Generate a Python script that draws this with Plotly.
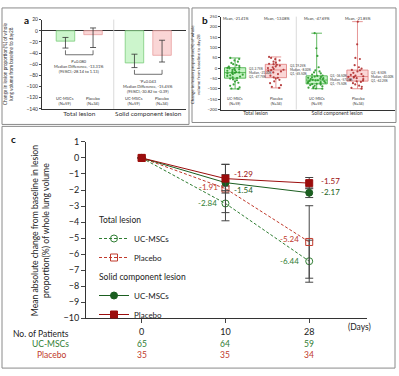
import plotly.graph_objects as go
import numpy as np

W, H = 399, 376
FONT = "Lato"

# ---------------- data ----------------
# panel a : change in lesion proportion (bars with error bars)
a_cats = ["Total lesion", "Solid component lesion"]
a_uc_val = [-18.6, -57.6]
a_uc_upper = [-12.0, -42.0]
a_uc_lower = [-31.0, -66.0]
a_pl_val = [-7.0, -44.0]
a_pl_upper = [5.0, -17.0]
a_pl_lower = [-30.0, -56.0]
a_uc_label = "UC-MSCs<br>(N=59)"
a_pl_label = "Placebo<br>(N=34)"
a_stats = ["P=0.080<br>Median Difference, -13.31%<br>(95%CI,-28.14 to 1.13)",
           "*P=0.043<br>Median Difference, -15.45%<br>(95%CI,-30.82 to -0.39)"]
a_yticks = [20, 0, -20, -40, -60, -80, -100, -120, -140]

# panel b : individual changes (box + points)
b_cats = a_cats
b_uc_total = [-100, -98, -92, -85, -78, -70, -64, -58, -54, -50, -47, -44, -40, -37, -34, -31,
              -28, -25, -23, -22, -20, -18, -15, -12, -10, -7, -5, -3, 0, 2, 5, 8, 12, 15, 20,
              26, 32, 38, 45, 50]
b_pl_total = [-95, -90, -82, -72, -63, -56, -50, -46, -44, -36, -28, -20, -15, -11, -9, -7, -3,
              1, 5, 9, 13, 17, 20, 22, 27, 32, 38, 44, 50, 55]
b_uc_solid = [-99, -98, -96, -94, -91, -88, -85, -82, -79, -77, -75, -73, -71, -69, -67, -65,
              -63, -61, -59, -58, -56, -54, -52, -50, -48, -46, -44, -42, -40, -37, -35, -30,
              -25, -20, -15, -10, 5, 60, 97, 170]
b_pl_solid = [-99, -95, -90, -84, -78, -72, -66, -63, -60, -56, -52, -48, -45, -42, -41, -39,
              -36, -32, -28, -22, -15, -10, -8, -2, 5, 15, 45, 50, 116, 226]
b_uc_means = ["Mean, -21.41%", "Mean, -47.69%"]
b_pl_means = ["Mean, -13.08%", "Mean, -21.85%"]
b_yticks = [250, 200, 150, 100, 50, 0, -50, -100, -150, -200]

# panel c : mean absolute change over time
c_days = ["0", "10", "28"]
c_total_uc = [0, -2.84, -6.44]
c_total_uc_err = [None, 1.08, 1.31]
c_total_pl = [0, -1.91, -5.24]
c_total_pl_err = [None, 1.50, 2.26]
c_solid_uc = [0, -1.54, -2.17]
c_solid_uc_err = [None, 0.50, 0.30]
c_solid_pl = [0, -1.29, -1.57]
c_solid_pl_err = [None, 0.90, 0.35]
c_n_uc = [65, 64, 59]
c_n_pl = [35, 35, 34]

# ---------------- styles ----------------
GREEN = "#2f7d32"
DGREEN = "#1b5e20"
RED = "#c0392b"
DRED = "#9b0d0d"
AX = "#333333"


def fx(px):
    return px / W


def fy(py):
    return 1 - py / H


fig = go.Figure()

# ---- panel a ----
for vals, up, lo, fill, edge, og in [
    (a_uc_val, a_uc_upper, a_uc_lower, "#ccf5cc", "#7ccc7c", "uc"),
    (a_pl_val, a_pl_upper, a_pl_lower, "#fad6d6", "#eaa0a0", "pl"),
]:
    fig.add_trace(go.Bar(
        x=a_cats, y=vals, xaxis="x", yaxis="y", offsetgroup=og, showlegend=False,
        marker=dict(color=fill, line=dict(color=edge, width=0.8)),
        error_y=dict(type="data", symmetric=False,
                     array=[u - v for u, v in zip(up, vals)],
                     arrayminus=[v - l for v, l in zip(vals, lo)],
                     color="#333", thickness=0.8, width=3),
    ))

# ---- panel b ----
for groups, fill, edge, pt, og in [
    ((b_uc_total, b_uc_solid), "rgba(150,235,150,0.55)", "#3aa83a", "#2a9a2a", "uc"),
    ((b_pl_total, b_pl_solid), "rgba(248,200,200,0.75)", "#e07b7b", "#b03030", "pl"),
]:
    q1 = [float(np.percentile(g, 25)) for g in groups]
    med = [float(np.percentile(g, 50)) for g in groups]
    q3 = [float(np.percentile(g, 75)) for g in groups]
    lf = [float(np.min(g)) for g in groups]
    uf = [float(np.max(g)) for g in groups]
    fig.add_trace(go.Box(
        x=b_cats, q1=q1, median=med, q3=q3, lowerfence=lf, upperfence=uf,
        xaxis="x2", yaxis="y2", offsetgroup=og, showlegend=False, boxpoints=False,
        fillcolor=fill, line=dict(color=edge, width=0.8), whiskerwidth=0.5,
    ))
    xs, ys = [], []
    for c, g in zip(b_cats, groups):
        xs += [c] * len(g)
        ys += list(g)
    fig.add_trace(go.Box(
        x=xs, y=ys, xaxis="x2", yaxis="y2", offsetgroup=og, showlegend=False,
        boxpoints="all", jitter=0.9, pointpos=0, fillcolor="rgba(0,0,0,0)",
        line=dict(color="rgba(0,0,0,0)", width=0),
        marker=dict(color=pt, size=2.2, opacity=0.9),
    ))

# ---- panel c ----
series = [
    ("Total lesion", "UC-MSCs", c_total_uc, c_total_uc_err, GREEN, "circle-open", "3px,2px", "total"),
    ("Total lesion", "Placebo", c_total_pl, c_total_pl_err, RED, "square-open", "3px,2px", "total"),
    ("Solid component lesion", "UC-MSCs", c_solid_uc, c_solid_uc_err, DGREEN, "circle", "solid", "solid"),
    ("Solid component lesion", "Placebo", c_solid_pl, c_solid_pl_err, DRED, "square", "solid", "solid"),
]
for gtitle, name, vals, err, col, sym, dash, grp in series:
    fig.add_trace(go.Scatter(
        x=c_days, y=vals, xaxis="x3", yaxis="y3", mode="lines+markers", name=name,
        legendgroup=grp, legendgrouptitle=dict(text=gtitle, font=dict(size=8.5, color="#222")),
        line=dict(color=col, width=1, dash=dash),
        marker=dict(symbol=sym, size=7, color=col, line=dict(color=col, width=1)),
        error_y=dict(type="data", array=err, color="#444", thickness=1, width=4),
    ))

# ---------------- annotations ----------------
ann = []


def note(**kw):
    kw.setdefault("showarrow", False)
    kw.setdefault("xanchor", "center")
    kw.setdefault("yanchor", "middle")
    ann.append(kw)


# panel a group labels & statistics
for ci in range(len(a_cats)):
    note(x=ci, y=-126, xref="x", yref="y", text=a_uc_label, xshift=-14, font=dict(size=4))
    note(x=ci, y=-126, xref="x", yref="y", text=a_pl_label, xshift=14, font=dict(size=4))
for i, s in enumerate(a_stats):
    ybr = min(a_uc_lower[i], a_pl_lower[i]) - 12
    note(x=i, y=ybr - 4, xref="x", yref="y", text=s, yanchor="top", font=dict(size=4))
# panel b labels
for i in range(len(b_cats)):
    note(x=i, y=-158, xref="x2", yref="y2", text=a_uc_label, xshift=-20.5, font=dict(size=3.6))
    note(x=i, y=-158, xref="x2", yref="y2", text=a_pl_label, xshift=20.5, font=dict(size=3.6))
    note(x=i, y=242, xref="x2", yref="y2", text=b_uc_means[i], xshift=-20.5, font=dict(size=3.8))
    note(x=i, y=242, xref="x2", yref="y2", text=b_pl_means[i], xshift=20.5, font=dict(size=3.8))
for groups, shift in [((b_uc_total, b_uc_solid), -9), ((b_pl_total, b_pl_solid), 32)]:
    for i, g in enumerate(groups):
        q1, md, q3 = np.percentile(g, [25, 50, 75])
        note(x=i, y=md, xref="x2", yref="y2", xanchor="left", xshift=shift, align="left",
             font=dict(size=3), text=f"Q3, {q3:.2f}%<br>Median, {md:.2f}%<br>Q1, {q1:.2f}%")

# panel c value labels (style: side, x offset px, y offset px)
lab_style = {
    "total_uc": [None, ("right", -6, 0), ("right", -8, 0)],
    "total_pl": [None, ("right", -5, 2), ("right", -8, 3)],
    "solid_uc": [None, ("left", 7, -7), ("left", 10, 1)],
    "solid_pl": [None, ("left", 7, 5), ("left", 10, 2)],
}
for key, vals, col in [("total_uc", c_total_uc, GREEN), ("total_pl", c_total_pl, RED),
                       ("solid_uc", c_solid_uc, DGREEN), ("solid_pl", c_solid_pl, DRED)]:
    for di, (v, st) in enumerate(zip(vals, lab_style[key])):
        if st is None:
            continue
        side, xs_, ys_ = st
        note(x=di, y=v, xref="x3", yref="y3", text=f"{v:.2f}", xanchor=side,
             xshift=xs_, yshift=ys_, font=dict(size=8, color=col))

# patients table
note(x=fx(41), y=fy(337.5), xref="paper", yref="paper", text="No. of Patients",
     font=dict(size=8.5, color="#222"))
note(x=fx(50), y=fy(348.5), xref="paper", yref="paper", text="UC-MSCs",
     font=dict(size=8.5, color=GREEN))
note(x=fx(52), y=fy(359.5), xref="paper", yref="paper", text="Placebo",
     font=dict(size=8.5, color=RED))
for di, (n1, n2) in enumerate(zip(c_n_uc, c_n_pl)):
    note(x=di, y=fy(348.5), xref="x3", yref="paper", text=str(n1), font=dict(size=8.5, color=GREEN))
    note(x=di, y=fy(359.5), xref="x3", yref="paper", text=str(n2), font=dict(size=8.5, color=RED))
note(x=fx(359), y=fy(331), xref="paper", yref="paper", text="(Days)",
     font=dict(size=8.5, color="#222"))

# axis titles
note(x=fx(8), y=fy(60), xref="paper", yref="paper", textangle=-90,
     text="Change in lesion proportion(%) of whole<br>lung volume from baseline to day28",
     font=dict(size=4.7))
note(x=fx(195), y=fy(60), xref="paper", yref="paper", textangle=-90,
     text="Change in lesion proportion(%) of whole<br>volume from baseline to day28",
     font=dict(size=4.5))
note(x=fx(40), y=fy(232), xref="paper", yref="paper", textangle=-90,
     text="Mean absolute change from baseline in lesion<br>proportion(%) of whole lung volume",
     font=dict(size=8.6, color="#222"))

# panel letters
for letter, px, py in [("a", 26, 14), ("b", 205, 14), ("c", 13, 137)]:
    note(x=fx(px), y=fy(py), xref="paper", yref="paper", text=f"<b>{letter}</b>",
         font=dict(size=10, color="#111"))

# ---------------- shapes ----------------
shapes = []
for x0, y0, x1, y1 in [(2, 2, 189, 122), (192, 2, 396, 120), (2, 124, 395, 373)]:
    shapes.append(dict(type="rect", xref="paper", yref="paper", x0=fx(x0), x1=fx(x1),
                       y0=fy(y1), y1=fy(y0), line=dict(color="#8a8a8a", width=1)))
shapes.append(dict(type="line", xref="x", yref="y domain", x0=0.5, x1=0.5, y0=0, y1=1,
                   line=dict(color="#d0d0d0", width=0.8)))
shapes.append(dict(type="line", xref="x2", yref="y2 domain", x0=0.5, x1=0.5, y0=0, y1=1,
                   line=dict(color="#d0d0d0", width=0.8)))
for i in range(len(a_cats)):
    ytop = min(a_uc_lower[i], a_pl_lower[i]) - 4
    ybr = min(a_uc_lower[i], a_pl_lower[i]) - 12
    for xo in (-0.2, 0.2):
        shapes.append(dict(type="line", xref="x", yref="y", x0=i + xo, x1=i + xo, y0=ytop, y1=ybr,
                           line=dict(color="#333", width=0.7)))
    shapes.append(dict(type="line", xref="x", yref="y", x0=i - 0.2, x1=i + 0.2, y0=ybr, y1=ybr,
                       line=dict(color="#333", width=0.7)))

axis_common = dict(showgrid=False, showline=True, linecolor=AX, linewidth=1, zeroline=False)

fig.update_layout(
    width=W, height=H, margin=dict(l=0, r=0, t=0, b=0), autosize=False,
    paper_bgcolor="white", plot_bgcolor="rgba(0,0,0,0)",
    font=dict(family=FONT, color="#333"),
    barmode="group", bargap=0.2, bargroupgap=0.33,
    boxmode="group", boxgap=0.0, boxgroupgap=0.48,
    xaxis=dict(domain=[fx(42), fx(186)], anchor="y", type="category", range=[-0.54, 1.547],
               ticks="", ticklabelstandoff=-2, tickfont=dict(size=6.5), **axis_common),
    yaxis=dict(domain=[fy(106), fy(14)], anchor="x", range=[-140, 20], tickvals=a_yticks,
               ticks="outside", ticklen=2, tickwidth=0.8, tickfont=dict(size=5),
               showgrid=False, showline=True, linecolor=AX, linewidth=1,
               zeroline=True, zerolinecolor=AX, zerolinewidth=1),
    xaxis2=dict(domain=[fx(221), fx(395)], anchor="y2", type="category", range=[-0.423, 1.71],
                ticks="", ticklabelstandoff=-2, tickfont=dict(size=5), **axis_common),
    yaxis2=dict(domain=[fy(106.7), fy(11)], anchor="x2", range=[-200, 250], tickvals=b_yticks,
                ticks="outside", ticklen=2, tickwidth=0.8, tickfont=dict(size=4.2), **axis_common),
    xaxis3=dict(domain=[fx(85), fx(367)], anchor="y3", type="category", range=[-0.677, 2.69],
                ticks="outside", ticklen=4, ticklabelstandoff=1,
                tickfont=dict(size=9, color="#222"), **axis_common),
    yaxis3=dict(domain=[fy(321.7), fy(140)], anchor="free", position=fx(85), side="left",
                range=[-10, 1], tickmode="linear", tick0=0, dtick=1,
                ticks="outside", ticklen=4, tickwidth=1, tickfont=dict(size=9, color="#222"),
                **axis_common),
    legend=dict(x=fx(94), y=fy(205), xanchor="left", yanchor="top", bgcolor="rgba(0,0,0,0)",
                traceorder="grouped", tracegroupgap=0, itemwidth=30,
                font=dict(size=8, color="#222")),
    annotations=ann, shapes=shapes,
)

fig.write_html(
    "out.html",
    config={"displayModeBar": False, "responsive": False},
    post_script=(
        "document.documentElement.style.margin='0';document.body.style.margin='0';"
        "document.documentElement.style.overflow='hidden';document.body.style.overflow='hidden';"
        "var g=document.getElementsByClassName('plotly-graph-div')[0];"
        "if(g){g.style.overflow='hidden';var s=g.querySelector('.svg-container');"
        "if(s){s.style.display='block';}}"
    ),
)
